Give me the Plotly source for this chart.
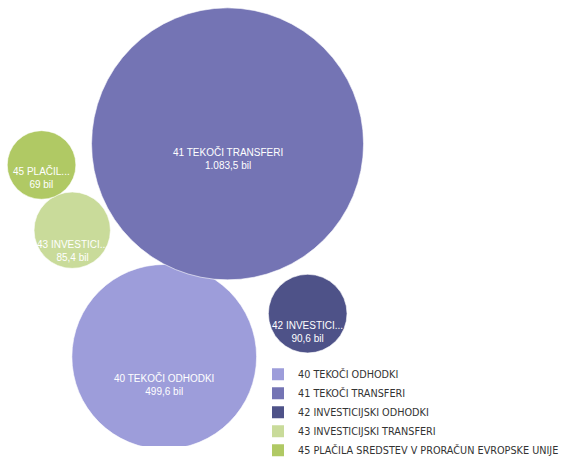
import plotly.graph_objects as go

# ---- data ----
categories = [
    "40 TEKOČI ODHODKI",
    "41 TEKOČI TRANSFERI",
    "42 INVESTICIJSKI ODHODKI",
    "43 INVESTICIJSKI TRANSFERI",
    "45 PLAČILA SREDSTEV V PRORAČUN EVROPSKE UNIJE",
]
bubble_labels = [
    "40 TEKOČI ODHODKI",
    "41 TEKOČI TRANSFERI",
    "42 INVESTICI...",
    "43 INVESTICI...",
    "45 PLAČIL...",
]
values = [499.6, 1083.5, 90.6, 85.4, 69.0]
unit = "bil"

# ---- layout of the packed bubbles (pixel-space centres) ----
pack_x = [166, 230, 311, 73, 42]
pack_y = [372, 150, 327, 240, 172]
label_shift = [-28, -15, -18, -21, -13]
max_radius_px = 136

colors = ["#9d9dda", "#7474b4", "#4e5288", "#c9db9a", "#b0c964"]

W, H = 564, 465


def fmt(v):
    if abs(v - round(v)) < 1e-9:
        s = f"{int(round(v)):,}".replace(",", ".")
    else:
        s = f"{v:,.1f}"
        s = s.replace(",", "X").replace(".", ",").replace("X", ".")
    return s


vmax = max(values)
diam = [2 * max_radius_px * (v / vmax) ** 0.5 for v in values]

fig = go.Figure()
for i, cat in enumerate(categories):
    fig.add_trace(go.Scatter(
        x=[pack_x[i]], y=[pack_y[i]],
        mode="markers",
        marker=dict(size=diam[i], sizemode="diameter", color=colors[i],
                    line=dict(width=0.6, color="white"), opacity=1),
        showlegend=False, hoverinfo="skip",
    ))
    fig.add_annotation(
        x=pack_x[i], y=pack_y[i], xref="x", yref="y",
        text=f"{bubble_labels[i]}<br>{fmt(values[i])} {unit}",
        showarrow=False, yshift=label_shift[i], align="center",
        font=dict(family="Liberation Sans, Arial", size=10, color="#ffffff"),
    )

for i, cat in enumerate(categories):
    fig.add_trace(go.Scatter(
        x=[None], y=[None], mode="markers",
        marker=dict(symbol="square", size=9, color=colors[i]),
        name=cat, showlegend=True,
    ))

fig.update_layout(
    width=W, height=H,
    margin=dict(l=0, r=0, t=0, b=0),
    paper_bgcolor="white", plot_bgcolor="white",
    xaxis=dict(range=[0, W], visible=False, fixedrange=True),
    yaxis=dict(range=[H, 0], visible=False, fixedrange=True),
    showlegend=True,
    legend=dict(
        x=261 / W, xanchor="left",
        y=1 - 375 / H, yanchor="top",
        font=dict(family="DejaVu Sans, Tahoma", size=9.7, color="#333333"),
        bgcolor="rgba(0,0,0,0)", borderwidth=0,
        traceorder="normal", itemsizing="constant",
        tracegroupgap=0,
    ),
)

fig.write_html(
    "out.html",
    config={"displayModeBar": False},
    post_script="document.body.style.margin='0';document.body.style.overflow='hidden';",
)
